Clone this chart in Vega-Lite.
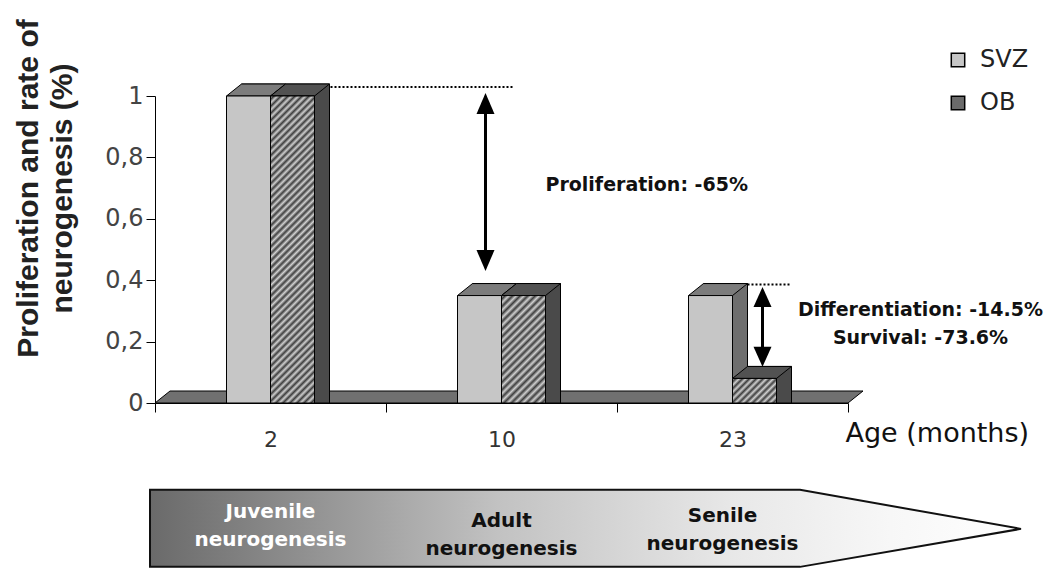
{
  "$schema": "https://vega.github.io/schema/vega-lite/v6.json",
  "width": 693,
  "height": 307,
  "autosize": {"type": "none"},
  "padding": {"left": 155, "top": 96, "right": 204, "bottom": 169},
  "background": "white",
  "config": {"view": {"stroke": null}, "axis": {"grid": false}},
  "data": {"values": [
    {"age": "2", "series": "SVZ", "value": 1},
    {"age": "2", "series": "OB", "value": 1},
    {"age": "10", "series": "SVZ", "value": 0.35},
    {"age": "10", "series": "OB", "value": 0.35},
    {"age": "23", "series": "SVZ", "value": 0.35},
    {"age": "23", "series": "OB", "value": 0.08}
  ]},
  "resolve": {"scale": {"xOffset": "independent"}},
  "layer": [
    {
      "data": {"values": [{}]},
      "mark": {"type": "point", "shape": "M-346.5,0L-331.5,-12L361.5,-12L346.5,0Z", "size": 4, "filled": true, "fill": "#707070", "stroke": "#000", "strokeWidth": 1, "opacity": 1},
      "encoding": {
        "y": {"datum": 0, "type": "quantitative", "scale": {"domain": [0, 1], "nice": false, "zero": true},
          "axis": {"values": [0, 0.2, 0.4, 0.6, 0.8, 1], "format": ".1~f", "labelExpr": "replace(datum.label, '.', ',')",
            "labelFont": "DejaVu Sans", "labelFontSize": 24, "labelColor": "#444", "labelPadding": 3, "tickSize": 9, "tickColor": "#000", "domainColor": "#000",
            "title": ["Proliferation and rate of", "neurogenesis (%)"], "titleFont": "Liberation Sans", "titleFontSize": 30, "titleFontWeight": "bold", "titleColor": "#222",
            "titleAngle": -90, "titleX": -142, "titleY": 92, "titleAlign": "center", "titleBaseline": "top", "titleLineHeight": 34}}
      }
    },
    {
      "mark": {"type": "bar", "yOffset": -12, "y2Offset": -12, "stroke": "#000", "strokeWidth": 1},
      "encoding": {
        "x": {"field": "age", "type": "nominal", "scale": {"domain": ["2", "10", "23"], "paddingInner": 0, "paddingOuter": 0},
          "axis": {"title": "Age (months)", "titleFont": "DejaVu Sans", "titleFontSize": 27, "titleFontWeight": "normal", "titleColor": "#111",
            "titleX": 690, "titleY": 30, "titleAlign": "left", "titleBaseline": "middle", "titleAnchor": "start",
            "labelFont": "DejaVu Sans", "labelFontSize": 22, "labelColor": "#333", "labelPadding": 17, "labelAngle": 0,
            "tickSize": 9, "tickBand": "extent", "tickColor": "#000", "domainColor": "#000"}},
        "xOffset": {"field": "series", "type": "nominal", "scale": {"domain": ["SVZ", "OB"], "range": [86.5, 174.5], "paddingInner": 0, "paddingOuter": 0}},
        "y": {"field": "value", "type": "quantitative", "stack": null, "scale": {"domain": [0, 1], "nice": false, "zero": true}},
        "fill": {"condition": {"test": "datum.series === 'OB'", "value": "#4a4a4a"}, "value": "#6e6e6e"}
      }
    },
    {
      "mark": {"type": "point", "shape": "M0,0L15,-12L59,-12L44,0Z", "size": 4, "filled": true, "opacity": 1, "stroke": "#000", "strokeWidth": 1},
      "encoding": {
        "x": {"field": "age", "type": "nominal", "scale": {"domain": ["2", "10", "23"], "paddingInner": 0, "paddingOuter": 0}},
        "xOffset": {"field": "series", "type": "nominal", "scale": {"domain": ["SVZ", "OB"], "range": [71.5, 115.5], "paddingOuter": 0}},
        "y": {"field": "value", "type": "quantitative", "stack": null, "scale": {"domain": [0, 1], "nice": false, "zero": true}},
        "fill": {"condition": {"test": "datum.series === 'OB'", "value": "#525252"}, "value": "#7c7c7c"}
      }
    },
    {
      "mark": {"type": "bar", "stroke": "#000", "strokeWidth": 1},
      "encoding": {
        "x": {"field": "age", "type": "nominal", "scale": {"domain": ["2", "10", "23"], "paddingInner": 0, "paddingOuter": 0}},
        "xOffset": {"field": "series", "type": "nominal", "scale": {"domain": ["SVZ", "OB"], "range": [71.5, 159.5], "paddingInner": 0, "paddingOuter": 0}},
        "y": {"field": "value", "type": "quantitative", "stack": null, "scale": {"domain": [0, 1], "nice": false, "zero": true}},
        "fill": {"field": "series", "type": "nominal", "scale": {"domain": ["SVZ", "OB"], "range": ["#c6c6c6", "#6a6a6a"]},
          "legend": {"title": null, "orient": "none", "legendX": 791, "legendY": -48, "padding": 0, "symbolType": "square", "symbolSize": 180,
            "symbolStrokeColor": "#000", "symbolStrokeWidth": 1.5, "labelFont": "DejaVu Sans", "labelFontSize": 24, "labelColor": "#222",
            "rowPadding": 19, "labelOffset": 10}}
      }
    },
    {
      "transform": [{"filter": "datum.series === 'OB' && datum.age === '2'"}],
      "mark": {"type": "bar", "stroke": "#000", "strokeWidth": 1,
        "fill": {"gradient": "linear", "x1": 0, "y1": 0, "x2": 0.1606, "y2": 1.1203, "stops": [
          {"offset": 0, "color": "#d0d0d0"}, {"offset": 0.01, "color": "#3e3e3e"}, {"offset": 0.02, "color": "#d0d0d0"}, {"offset": 0.03, "color": "#3e3e3e"},
          {"offset": 0.04, "color": "#d0d0d0"}, {"offset": 0.05, "color": "#3e3e3e"}, {"offset": 0.06, "color": "#d0d0d0"}, {"offset": 0.07, "color": "#3e3e3e"},
          {"offset": 0.08, "color": "#d0d0d0"}, {"offset": 0.09, "color": "#3e3e3e"}, {"offset": 0.10, "color": "#d0d0d0"}, {"offset": 0.11, "color": "#3e3e3e"},
          {"offset": 0.12, "color": "#d0d0d0"}, {"offset": 0.13, "color": "#3e3e3e"}, {"offset": 0.14, "color": "#d0d0d0"}, {"offset": 0.15, "color": "#3e3e3e"},
          {"offset": 0.16, "color": "#d0d0d0"}, {"offset": 0.17, "color": "#3e3e3e"}, {"offset": 0.18, "color": "#d0d0d0"}, {"offset": 0.19, "color": "#3e3e3e"},
          {"offset": 0.20, "color": "#d0d0d0"}, {"offset": 0.21, "color": "#3e3e3e"}, {"offset": 0.22, "color": "#d0d0d0"}, {"offset": 0.23, "color": "#3e3e3e"},
          {"offset": 0.24, "color": "#d0d0d0"}, {"offset": 0.25, "color": "#3e3e3e"}, {"offset": 0.26, "color": "#d0d0d0"}, {"offset": 0.27, "color": "#3e3e3e"},
          {"offset": 0.28, "color": "#d0d0d0"}, {"offset": 0.29, "color": "#3e3e3e"}, {"offset": 0.30, "color": "#d0d0d0"}, {"offset": 0.31, "color": "#3e3e3e"},
          {"offset": 0.32, "color": "#d0d0d0"}, {"offset": 0.33, "color": "#3e3e3e"}, {"offset": 0.34, "color": "#d0d0d0"}, {"offset": 0.35, "color": "#3e3e3e"},
          {"offset": 0.36, "color": "#d0d0d0"}, {"offset": 0.37, "color": "#3e3e3e"}, {"offset": 0.38, "color": "#d0d0d0"}, {"offset": 0.39, "color": "#3e3e3e"},
          {"offset": 0.40, "color": "#d0d0d0"}, {"offset": 0.41, "color": "#3e3e3e"}, {"offset": 0.42, "color": "#d0d0d0"}, {"offset": 0.43, "color": "#3e3e3e"},
          {"offset": 0.44, "color": "#d0d0d0"}, {"offset": 0.45, "color": "#3e3e3e"}, {"offset": 0.46, "color": "#d0d0d0"}, {"offset": 0.47, "color": "#3e3e3e"},
          {"offset": 0.48, "color": "#d0d0d0"}, {"offset": 0.49, "color": "#3e3e3e"}, {"offset": 0.50, "color": "#d0d0d0"}, {"offset": 0.51, "color": "#3e3e3e"},
          {"offset": 0.52, "color": "#d0d0d0"}, {"offset": 0.53, "color": "#3e3e3e"}, {"offset": 0.54, "color": "#d0d0d0"}, {"offset": 0.55, "color": "#3e3e3e"},
          {"offset": 0.56, "color": "#d0d0d0"}, {"offset": 0.57, "color": "#3e3e3e"}, {"offset": 0.58, "color": "#d0d0d0"}, {"offset": 0.59, "color": "#3e3e3e"},
          {"offset": 0.60, "color": "#d0d0d0"}, {"offset": 0.61, "color": "#3e3e3e"}, {"offset": 0.62, "color": "#d0d0d0"}, {"offset": 0.63, "color": "#3e3e3e"},
          {"offset": 0.64, "color": "#d0d0d0"}, {"offset": 0.65, "color": "#3e3e3e"}, {"offset": 0.66, "color": "#d0d0d0"}, {"offset": 0.67, "color": "#3e3e3e"},
          {"offset": 0.68, "color": "#d0d0d0"}, {"offset": 0.69, "color": "#3e3e3e"}, {"offset": 0.70, "color": "#d0d0d0"}, {"offset": 0.71, "color": "#3e3e3e"},
          {"offset": 0.72, "color": "#d0d0d0"}, {"offset": 0.73, "color": "#3e3e3e"}, {"offset": 0.74, "color": "#d0d0d0"}, {"offset": 0.75, "color": "#3e3e3e"},
          {"offset": 0.76, "color": "#d0d0d0"}, {"offset": 0.77, "color": "#3e3e3e"}, {"offset": 0.78, "color": "#d0d0d0"}, {"offset": 0.79, "color": "#3e3e3e"},
          {"offset": 0.80, "color": "#d0d0d0"}, {"offset": 0.81, "color": "#3e3e3e"}, {"offset": 0.82, "color": "#d0d0d0"}, {"offset": 0.83, "color": "#3e3e3e"},
          {"offset": 0.84, "color": "#d0d0d0"}, {"offset": 0.85, "color": "#3e3e3e"}, {"offset": 0.86, "color": "#d0d0d0"}, {"offset": 0.87, "color": "#3e3e3e"},
          {"offset": 0.88, "color": "#d0d0d0"}, {"offset": 0.89, "color": "#3e3e3e"}, {"offset": 0.90, "color": "#d0d0d0"}, {"offset": 0.91, "color": "#3e3e3e"},
          {"offset": 0.92, "color": "#d0d0d0"}, {"offset": 0.93, "color": "#3e3e3e"}, {"offset": 0.94, "color": "#d0d0d0"}, {"offset": 0.95, "color": "#3e3e3e"},
          {"offset": 0.96, "color": "#d0d0d0"}, {"offset": 0.97, "color": "#3e3e3e"}, {"offset": 0.98, "color": "#d0d0d0"}, {"offset": 0.99, "color": "#3e3e3e"},
          {"offset": 1, "color": "#d0d0d0"}
        ]}},
      "encoding": {
        "x": {"field": "age", "type": "nominal", "scale": {"domain": ["2", "10", "23"], "paddingInner": 0, "paddingOuter": 0}},
        "xOffset": {"field": "series", "type": "nominal", "scale": {"domain": ["SVZ", "OB"], "range": [71.5, 159.5], "paddingInner": 0, "paddingOuter": 0}},
        "y": {"field": "value", "type": "quantitative", "stack": null, "scale": {"domain": [0, 1], "nice": false, "zero": true}}
      }
    },
    {
      "transform": [{"filter": "datum.series === 'OB' && datum.age === '10'"}],
      "mark": {"type": "bar", "stroke": "#000", "strokeWidth": 1,
        "fill": {"gradient": "linear", "x1": 0, "y1": 0, "x2": 0.4943, "y2": 1.2071, "stops": [
          {"offset": 0, "color": "#d0d0d0"}, {"offset": 0.025, "color": "#3e3e3e"}, {"offset": 0.05, "color": "#d0d0d0"}, {"offset": 0.075, "color": "#3e3e3e"},
          {"offset": 0.1, "color": "#d0d0d0"}, {"offset": 0.125, "color": "#3e3e3e"}, {"offset": 0.15, "color": "#d0d0d0"}, {"offset": 0.175, "color": "#3e3e3e"},
          {"offset": 0.2, "color": "#d0d0d0"}, {"offset": 0.225, "color": "#3e3e3e"}, {"offset": 0.25, "color": "#d0d0d0"}, {"offset": 0.275, "color": "#3e3e3e"},
          {"offset": 0.3, "color": "#d0d0d0"}, {"offset": 0.325, "color": "#3e3e3e"}, {"offset": 0.35, "color": "#d0d0d0"}, {"offset": 0.375, "color": "#3e3e3e"},
          {"offset": 0.4, "color": "#d0d0d0"}, {"offset": 0.425, "color": "#3e3e3e"}, {"offset": 0.45, "color": "#d0d0d0"}, {"offset": 0.475, "color": "#3e3e3e"},
          {"offset": 0.5, "color": "#d0d0d0"}, {"offset": 0.525, "color": "#3e3e3e"}, {"offset": 0.55, "color": "#d0d0d0"}, {"offset": 0.575, "color": "#3e3e3e"},
          {"offset": 0.6, "color": "#d0d0d0"}, {"offset": 0.625, "color": "#3e3e3e"}, {"offset": 0.65, "color": "#d0d0d0"}, {"offset": 0.675, "color": "#3e3e3e"},
          {"offset": 0.7, "color": "#d0d0d0"}, {"offset": 0.725, "color": "#3e3e3e"}, {"offset": 0.75, "color": "#d0d0d0"}, {"offset": 0.775, "color": "#3e3e3e"},
          {"offset": 0.8, "color": "#d0d0d0"}, {"offset": 0.825, "color": "#3e3e3e"}, {"offset": 0.85, "color": "#d0d0d0"}, {"offset": 0.875, "color": "#3e3e3e"},
          {"offset": 0.9, "color": "#d0d0d0"}, {"offset": 0.925, "color": "#3e3e3e"}, {"offset": 0.95, "color": "#d0d0d0"}, {"offset": 0.975, "color": "#3e3e3e"},
          {"offset": 1, "color": "#d0d0d0"}
        ]}},
      "encoding": {
        "x": {"field": "age", "type": "nominal", "scale": {"domain": ["2", "10", "23"], "paddingInner": 0, "paddingOuter": 0}},
        "xOffset": {"field": "series", "type": "nominal", "scale": {"domain": ["SVZ", "OB"], "range": [71.5, 159.5], "paddingInner": 0, "paddingOuter": 0}},
        "y": {"field": "value", "type": "quantitative", "stack": null, "scale": {"domain": [0, 1], "nice": false, "zero": true}}
      }
    },
    {
      "transform": [{"filter": "datum.series === 'OB' && datum.age === '23'"}],
      "mark": {"type": "bar", "stroke": "#000", "strokeWidth": 1,
        "fill": {"gradient": "linear", "x1": 0, "y1": 0, "x2": 1.188, "y2": 0.664, "stops": [
          {"offset": 0, "color": "#d0d0d0"}, {"offset": 0.05, "color": "#3e3e3e"}, {"offset": 0.1, "color": "#d0d0d0"}, {"offset": 0.15, "color": "#3e3e3e"},
          {"offset": 0.2, "color": "#d0d0d0"}, {"offset": 0.25, "color": "#3e3e3e"}, {"offset": 0.3, "color": "#d0d0d0"}, {"offset": 0.35, "color": "#3e3e3e"},
          {"offset": 0.4, "color": "#d0d0d0"}, {"offset": 0.45, "color": "#3e3e3e"}, {"offset": 0.5, "color": "#d0d0d0"}, {"offset": 0.55, "color": "#3e3e3e"},
          {"offset": 0.6, "color": "#d0d0d0"}, {"offset": 0.65, "color": "#3e3e3e"}, {"offset": 0.7, "color": "#d0d0d0"}, {"offset": 0.75, "color": "#3e3e3e"},
          {"offset": 0.8, "color": "#d0d0d0"}, {"offset": 0.85, "color": "#3e3e3e"}, {"offset": 0.9, "color": "#d0d0d0"}, {"offset": 0.95, "color": "#3e3e3e"},
          {"offset": 1, "color": "#d0d0d0"}
        ]}},
      "encoding": {
        "x": {"field": "age", "type": "nominal", "scale": {"domain": ["2", "10", "23"], "paddingInner": 0, "paddingOuter": 0}},
        "xOffset": {"field": "series", "type": "nominal", "scale": {"domain": ["SVZ", "OB"], "range": [71.5, 159.5], "paddingInner": 0, "paddingOuter": 0}},
        "y": {"field": "value", "type": "quantitative", "stack": null, "scale": {"domain": [0, 1], "nice": false, "zero": true}}
      }
    },
    {
      "data": {"values": [{}]},
      "mark": {"type": "rule", "strokeDash": [2, 2], "strokeWidth": 2, "color": "#000", "xOffset": 60, "x2Offset": 11, "yOffset": -9},
      "encoding": {
        "x": {"datum": "2", "type": "nominal"},
        "x2": {"datum": "10"},
        "y": {"datum": 1, "type": "quantitative"}
      }
    },
    {
      "data": {"values": [{}]},
      "mark": {"type": "rule", "strokeWidth": 3, "color": "#000", "xOffset": -16},
      "encoding": {
        "x": {"datum": "10", "type": "nominal"},
        "y": {"datum": 0.985, "type": "quantitative"},
        "y2": {"datum": 0.455}
      }
    },
    {
      "data": {"values": [{}]},
      "mark": {"type": "point", "shape": "M0,0L-9,21L9,21Z", "size": 4, "filled": true, "opacity": 1, "fill": "#000", "strokeWidth": 0, "xOffset": -16},
      "encoding": {"x": {"datum": "10", "type": "nominal"}, "y": {"datum": 1.01, "type": "quantitative"}}
    },
    {
      "data": {"values": [{}]},
      "mark": {"type": "point", "shape": "M0,0L-9,-21L9,-21Z", "size": 4, "filled": true, "opacity": 1, "fill": "#000", "strokeWidth": 0, "xOffset": -16},
      "encoding": {"x": {"datum": "10", "type": "nominal"}, "y": {"datum": 0.43, "type": "quantitative"}}
    },
    {
      "data": {"values": [{}]},
      "mark": {"type": "text", "text": "Proliferation: -65%", "font": "DejaVu Sans", "fontWeight": "bold", "fontSize": 19, "color": "#111", "align": "left", "baseline": "middle", "xOffset": 44},
      "encoding": {"x": {"datum": "10", "type": "nominal"}, "y": {"datum": 0.71, "type": "quantitative"}}
    },
    {
      "data": {"values": [{}]},
      "mark": {"type": "rule", "strokeDash": [2, 2], "strokeWidth": 2, "color": "#000", "xOffset": 15, "x2Offset": 58, "yOffset": -11},
      "encoding": {
        "x": {"datum": "23", "type": "nominal"},
        "x2": {"datum": "23"},
        "y": {"datum": 0.35, "type": "quantitative"}
      }
    },
    {
      "data": {"values": [{}]},
      "mark": {"type": "rule", "strokeWidth": 3, "color": "#000", "xOffset": 30},
      "encoding": {
        "x": {"datum": "23", "type": "nominal"},
        "y": {"datum": 0.36, "type": "quantitative"},
        "y2": {"datum": 0.14}
      }
    },
    {
      "data": {"values": [{}]},
      "mark": {"type": "point", "shape": "M0,0L-9,20L9,20Z", "size": 4, "filled": true, "opacity": 1, "fill": "#000", "strokeWidth": 0, "xOffset": 30},
      "encoding": {"x": {"datum": "23", "type": "nominal"}, "y": {"datum": 0.378, "type": "quantitative"}}
    },
    {
      "data": {"values": [{}]},
      "mark": {"type": "point", "shape": "M0,0L-9,-20L9,-20Z", "size": 4, "filled": true, "opacity": 1, "fill": "#000", "strokeWidth": 0, "xOffset": 30},
      "encoding": {"x": {"datum": "23", "type": "nominal"}, "y": {"datum": 0.118, "type": "quantitative"}}
    },
    {
      "data": {"values": [{}]},
      "mark": {"type": "text", "text": "Differentiation: -14.5%\nSurvival: -73.6%", "lineBreak": "\n", "lineHeight": 28, "font": "DejaVu Sans", "fontWeight": "bold", "fontSize": 19, "color": "#111", "align": "center", "baseline": "middle", "xOffset": 188},
      "encoding": {"x": {"datum": "23", "type": "nominal"}, "y": {"datum": 0.303, "type": "quantitative"}}
    },
    {
      "data": {"values": [{}]},
      "mark": {"type": "point", "shape": "M-351.5,-39L298.5,-39L519.5,0L298.5,38L-351.5,38Z", "size": 4, "filled": true, "opacity": 1, "stroke": "#111", "strokeWidth": 2,
        "fill": {"gradient": "linear", "x1": 0, "y1": 0, "x2": 1, "y2": 0, "stops": [
          {"offset": 0, "color": "#6a6a6a"}, {"offset": 0.14, "color": "#888888"}, {"offset": 0.4, "color": "#c2c2c2"},
          {"offset": 0.67, "color": "#e8e8e8"}, {"offset": 0.85, "color": "#f7f7f7"}, {"offset": 1, "color": "#ffffff"}
        ]}},
      "encoding": {"y": {"datum": -0.41, "type": "quantitative"}}
    },
    {
      "data": {"values": [{}]},
      "mark": {"type": "text", "text": "Juvenile\nneurogenesis", "lineBreak": "\n", "lineHeight": 28, "font": "DejaVu Sans", "fontWeight": "bold", "fontSize": 20, "color": "#ffffff", "align": "center", "baseline": "middle"},
      "encoding": {"x": {"datum": "2", "type": "nominal"}, "y": {"datum": -0.355, "type": "quantitative"}}
    },
    {
      "data": {"values": [{}]},
      "mark": {"type": "text", "text": "Adult\nneurogenesis", "lineBreak": "\n", "lineHeight": 28, "font": "DejaVu Sans", "fontWeight": "bold", "fontSize": 20, "color": "#111", "align": "center", "baseline": "middle"},
      "encoding": {"x": {"datum": "10", "type": "nominal"}, "y": {"datum": -0.384, "type": "quantitative"}}
    },
    {
      "data": {"values": [{}]},
      "mark": {"type": "text", "text": "Senile\nneurogenesis", "lineBreak": "\n", "lineHeight": 28, "font": "DejaVu Sans", "fontWeight": "bold", "fontSize": 20, "color": "#111", "align": "center", "baseline": "middle", "xOffset": -10},
      "encoding": {"x": {"datum": "23", "type": "nominal"}, "y": {"datum": -0.368, "type": "quantitative"}}
    }
  ]
}
